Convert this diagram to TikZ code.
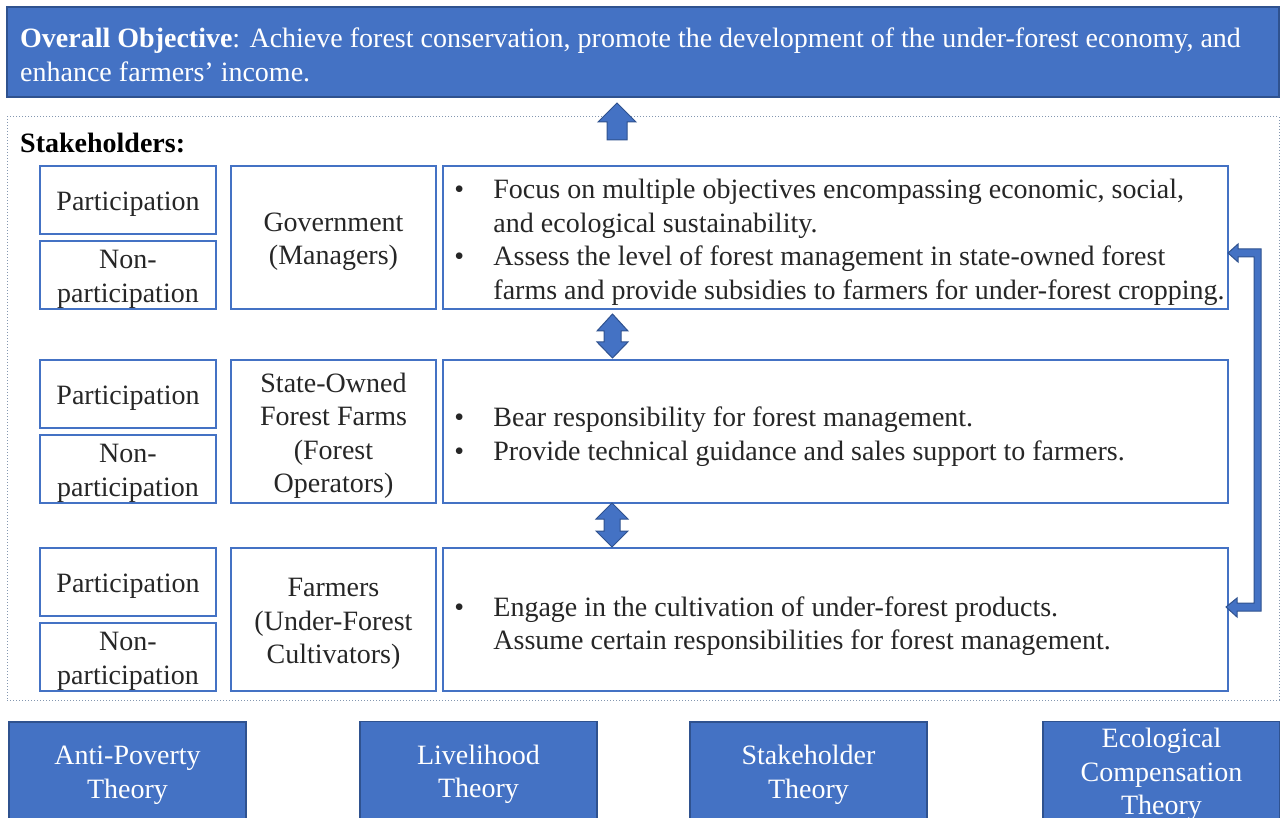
\documentclass[tikz,border=0pt]{standalone}
\usepackage{fontspec}
\setmainfont{Liberation Serif}
\definecolor{accent}{HTML}{4472C4}
\definecolor{accentdark}{HTML}{2F528F}
\definecolor{ink}{HTML}{262626}
\definecolor{framecol}{HTML}{8497B0}
\newcommand\itemmark{\makebox[39pt][l]{\textbullet}}
\newcommand\itemgap{\hspace*{39pt}}
\begin{document}
\begin{tikzpicture}[x=1pt,y=-1pt,
  every node/.style={font=\fontsize{28}{33.5}\selectfont, inner sep=0pt},
  bluebox/.style={draw=accentdark, fill=accent, line width=1.2pt},
  cell/.style={draw=accent, line width=1.5pt},
  celltext/.style={align=center, text=ink, yshift=-4.5pt},
  whitetext/.style={align=center, text=white, yshift=-4pt},
  bodytext/.style={anchor=west, align=left, text=ink},
  blockarrow/.style={draw=accentdark, fill=accent, line width=1pt, line join=miter}]
\useasboundingbox (0,0) rectangle (1280,818);

% overall objective banner
\node[bluebox, minimum width=1272, minimum height=90] (goal) at (643,52) {};
\node[anchor=west, align=left, text=white] (goaltxt) at (20,55)
  {\textbf{Overall Objective}: Achieve forest conservation, promote the development of the under-forest economy, and\\
   enhance farmers’ income.};

% stakeholder frame
\node[draw=framecol, dotted, line width=1pt, minimum width=1272, minimum height=583] (frame) at (643,408.5) {};
\node[anchor=west, font=\fontsize{28}{33.5}\selectfont\bfseries] (sh) at (20,143) {Stakeholders:};

% row 1: government
\node[cell, minimum width=176, minimum height=68] (p1) at (128,200) {};
\node[cell, minimum width=176, minimum height=68] (n1) at (128,275) {};
\node[cell, minimum width=205, minimum height=143] (g1) at (333.5,237.5) {};
\node[cell, minimum width=785, minimum height=143] (t1) at (835.5,237.5) {};
\node[celltext] (p1t) at (p1) {Participation};
\node[celltext] (n1t) at (n1) {Non-\\participation};
\node[celltext] (g1t) at (g1) {Government\\(Managers)};
\node[bodytext] (t1txt) at ([xshift=12pt,yshift=-5pt]t1.west)
  {\itemmark Focus on multiple objectives encompassing economic, social,\\
   \itemgap and ecological sustainability.\\
   \itemmark Assess the level of forest management in state-owned forest\\
   \itemgap farms and provide subsidies to farmers for under-forest cropping.};

% row 2: state-owned forest farms
\node[cell, minimum width=176, minimum height=68] (p2) at (128,394) {};
\node[cell, minimum width=176, minimum height=68] (n2) at (128,469) {};
\node[cell, minimum width=205, minimum height=143] (g2) at (333.5,431.5) {};
\node[cell, minimum width=785, minimum height=143] (t2) at (835.5,431.5) {};
\node[celltext] (p2t) at (p2) {Participation};
\node[celltext] (n2t) at (n2) {Non-\\participation};
\node[celltext] (g2t) at (g2) {State-Owned\\Forest Farms\\(Forest\\Operators)};
\node[bodytext] (t2txt) at ([xshift=12pt,yshift=-5pt]t2.west)
  {\itemmark Bear responsibility for forest management.\\
   \itemmark Provide technical guidance and sales support to farmers.};

% row 3: farmers
\node[cell, minimum width=176, minimum height=68] (p3) at (128,582) {};
\node[cell, minimum width=176, minimum height=68] (n3) at (128,657) {};
\node[cell, minimum width=205, minimum height=143] (g3) at (333.5,619.5) {};
\node[cell, minimum width=785, minimum height=143] (t3) at (835.5,619.5) {};
\node[celltext] (p3t) at (p3) {Participation};
\node[celltext] (n3t) at (n3) {Non-\\participation};
\node[celltext] (g3t) at (g3) {Farmers\\(Under-Forest\\Cultivators)};
\node[bodytext] (t3txt) at ([xshift=12pt,yshift=-6.5pt]t3.west)
  {\itemmark Engage in the cultivation of under-forest products.\\
   \itemgap Assume certain responsibilities for forest management.};

% block arrows
\draw[blockarrow] (607,140) -- (607,122) -- (598,122) -- (617,103) -- (636,122) -- (627,122) -- (627,140) -- cycle;
\draw[blockarrow] (612.5,314) -- (628,331) -- (621,331) -- (621,342) -- (628,342) -- (612.5,358)
  -- (597,342) -- (604,342) -- (604,331) -- (597,331) -- cycle;
\draw[blockarrow] (612,503) -- (628,519) -- (620,519) -- (620,531) -- (628,531) -- (612,547)
  -- (596,531) -- (604,531) -- (604,519) -- (596,519) -- cycle;
\draw[blockarrow] (1228,253) -- (1238,244) -- (1238,249) -- (1261,249) -- (1261,611) -- (1237,611)
  -- (1237,617) -- (1226,607) -- (1237,598) -- (1237,603) -- (1254,603) -- (1254,257)
  -- (1238,257) -- (1238,262) -- cycle;

% theories
\node[bluebox, minimum width=237, minimum height=98] (th1) at (127.5,771) {};
\node[bluebox, minimum width=237, minimum height=98] (th2) at (478.5,770.5) {};
\node[bluebox, minimum width=237, minimum height=98] (th3) at (808.5,771) {};
\node[bluebox, minimum width=237, minimum height=98] (th4) at (1161.5,770.5) {};
\node[whitetext] (th1t) at (th1) {Anti-Poverty\\Theory};
\node[whitetext] (th2t) at (th2) {Livelihood\\Theory};
\node[whitetext] (th3t) at (th3) {Stakeholder\\Theory};
\node[whitetext] (th4t) at (th4) {Ecological\\Compensation\\Theory};
\end{tikzpicture}
\end{document}
